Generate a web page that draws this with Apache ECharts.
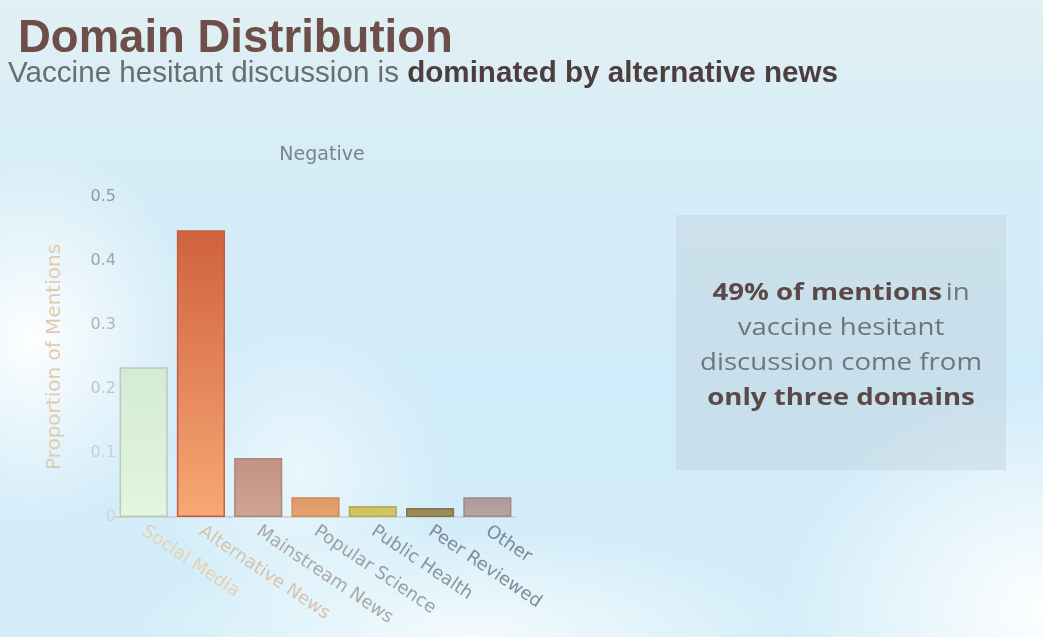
<!DOCTYPE html>
<html>
<head>
<meta charset="utf-8">
<script src="https://cdn.jsdelivr.net/npm/echarts@6/dist/echarts.min.js"></script>
<style>
  html, body { margin: 0; padding: 0; }
  #chart {
    width: 1043px; height: 637px;
    background:
      radial-gradient(ellipse 170px 190px at 30px 340px, rgba(255,255,255,0.95), rgba(255,255,255,0) 100%),
      radial-gradient(ellipse 260px 230px at 1043px 610px, rgba(255,255,255,0.95), rgba(255,255,255,0) 100%),
      radial-gradient(ellipse 330px 110px at 470px 637px, rgba(255,255,255,0.75), rgba(255,255,255,0) 100%),
      radial-gradient(ellipse 150px 160px at 300px 470px, rgba(255,255,255,0.55), rgba(255,255,255,0) 100%),
      linear-gradient(180deg, #e1f0f3 0%, #d6edf7 25%, #d0ebf9 60%, #d4eef9 100%);
  }
</style>
</head>
<body>
<div id="chart"></div>
<script>
// ---- data ----
const categories = ['Social Media', 'Alternative News', 'Mainstream News', 'Popular Science', 'Public Health', 'Peer Reviewed', 'Other'];
const proportions = [0.234, 0.448, 0.092, 0.031, 0.017, 0.014, 0.031];
const yTicks = [0, 0.1, 0.2, 0.3, 0.4, 0.5];

// ---- styles ----
const barTop    = ['#d3ebd4', '#d0623f', '#c19385', '#df9865', '#cdc062', '#978758', '#ae9a9a'];
const barBottom = ['#e3f6df', '#f7a874', '#cfa596', '#e6a472', '#d6c86a', '#9e8e60', '#b8a4a2'];
const barBorder = ['#c4c6b8', '#c45e40', '#b08678', '#cc8a5c', '#b4aa52', '#857648', '#9c8a8a'];
const xLabelColors = ['#e6d0b2', '#d6c3ae', '#a9a8a4', '#98a0a4', '#8a959c', '#7f8d96', '#7a8992'];
const yLabelColors = { '0': '#d4d3c8', '0.1': '#cfcfc6', '0.2': '#c4c4bc', '0.3': '#b0b3ae', '0.4': '#9ea5a6', '0.5': '#8e9ba0' };

const chart = echarts.init(document.getElementById('chart'), null, { renderer: 'canvas' });

const option = {
  backgroundColor: 'transparent',
  animation: false,
  grid: { left: 115, right: 527, top: 197, bottom: 120 },
  xAxis: {
    type: 'category',
    data: categories,
    axisLine: { lineStyle: { color: '#c6cdcd', width: 1.5 } },
    axisTick: { show: false },
    axisLabel: {
      rotate: -34,
      margin: 13,
      fontFamily: 'DejaVu Sans',
      fontSize: 18,
      color: function (v, i) { return xLabelColors[i]; }
    }
  },
  yAxis: {
    type: 'value',
    min: 0,
    max: 0.5,
    interval: 0.1,
    axisLine: { show: false },
    axisTick: { show: false },
    splitLine: { show: false },
    axisLabel: {
      margin: -1,
      fontFamily: 'DejaVu Sans',
      fontSize: 16,
      formatter: function (v) { return String(Math.round(v * 10) / 10); },
      color: function (v) { return yLabelColors[String(Math.round(v * 10) / 10)] || '#b0b3ae'; }
    },
    name: 'Proportion of Mentions',
    nameLocation: 'middle',
    nameGap: 50,
    nameTextStyle: { fontFamily: 'DejaVu Sans', fontSize: 20, color: '#e0cbac' }
  },
  series: [{
    type: 'bar',
    barCategoryGap: '16%',
    data: proportions.map(function (v, i) {
      return {
        value: v,
        itemStyle: {
          color: new echarts.graphic.LinearGradient(0, 0, 0, 1, [
            { offset: 0, color: barTop[i] },
            { offset: 1, color: barBottom[i] }
          ]),
          borderColor: barBorder[i],
          borderWidth: 1.5
        }
      };
    })
  }],
  graphic: [
    {
      type: 'text', x: 18, y: 16,
      style: { text: 'Domain Distribution', font: 'bold 45.5px "Liberation Sans", Arial, sans-serif', fill: '#6e4e48', textVerticalAlign: 'top' }
    },
    {
      type: 'text', x: 8, y: 59,
      style: {
        text: '{r|Vaccine hesitant discussion is }{b|dominated by alternative news}',
        textVerticalAlign: 'top',
        rich: {
          r: { font: '29.6px "Liberation Sans", Arial, sans-serif', fill: '#6a6d70' },
          b: { font: 'bold 29.6px "Liberation Sans", Arial, sans-serif', fill: '#4d3d3c' }
        }
      }
    },
    {
      type: 'text', x: 322, y: 155,
      style: { text: 'Negative', font: '19px "DejaVu Sans", sans-serif', fill: '#75858d', textAlign: 'center', textVerticalAlign: 'middle' }
    },
    {
      type: 'rect',
      shape: { x: 676, y: 215, width: 330, height: 255 },
      style: { fill: 'rgba(185,200,208,0.32)' }
    },
    {
      type: 'text', x: 841, y: 346, scaleX: 1.15, originX: 0, originY: 0,
      style: {
        text: '{b|49% of mentions} {r|in}\n{r|vaccine hesitant}\n{r|discussion come from}\n{b|only three domains}',
        textAlign: 'center',
        textVerticalAlign: 'middle',
        rich: {
          r: { font: '24px "Open Sans", sans-serif', fill: '#6c767b', lineHeight: 35 },
          b: { font: 'bold 24px "Open Sans", sans-serif', fill: '#5a4947', lineHeight: 35 }
        }
      }
    }
  ]
};

chart.setOption(option);
</script>
</body>
</html>
